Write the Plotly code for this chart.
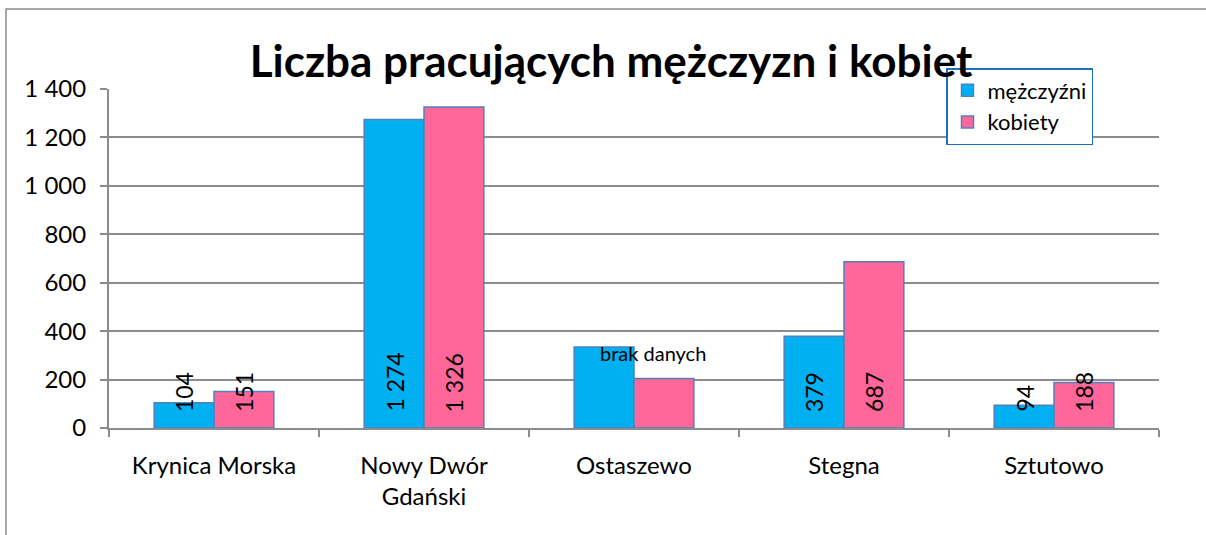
import plotly.graph_objects as go

categories = ["Krynica Morska", "Nowy Dwór<br>Gdański", "Ostaszewo", "Stegna", "Sztutowo"]
men = [104, 1274, 334, 379, 94]
women = [151, 1326, 204, 687, 188]
men_labels = ["104", "1 274", "", "379", "94"]
women_labels = ["151", "1 326", "", "687", "188"]
series_names = ["mężczyźni", "kobiety"]
y_tickvals = [0, 200, 400, 600, 800, 1000, 1200, 1400]
y_ticktext = ["0", "200", "400", "600", "800", "1 000", "1 200", "1 400"]
title_text = "Liczba pracujących mężczyzn i kobiet"
note_text = "brak danych"
note_category = "Ostaszewo"
note_value = 254

W, H = 1206, 535
ML, MR, MT, MB = 109, 47, 89, 107
FONT = "Lato"
BLUE = "#00B0F0"
PINK = "#FF6699"
EDGE = "#4F81BD"
GRID = "#8C8C8C"
BARGAP = 0.43

fig = go.Figure()
fig.add_trace(go.Bar(x=categories, y=men, name=series_names[0],
                     marker=dict(color=BLUE, line=dict(color=EDGE, width=1.5))))
fig.add_trace(go.Bar(x=categories, y=women, name=series_names[1],
                     marker=dict(color=PINK, line=dict(color=EDGE, width=1.5))))

plot_w = W - ML - MR
plot_h = H - MT - MB
cat_w = plot_w / len(categories)
bar_w = cat_w * (1 - BARGAP) / 2

annotations = []
for i, c in enumerate(categories):
    for lab, sh in ((men_labels[i], -bar_w / 2), (women_labels[i], bar_w / 2)):
        if lab:
            annotations.append(dict(x=c, y=0, xref="x", yref="y", text=lab, showarrow=False,
                                    textangle=-90, xanchor="center", yanchor="bottom",
                                    xshift=sh, yshift=14,
                                    font=dict(family=FONT, size=23, color="black")))
annotations.append(dict(x=note_category, y=note_value, xref="x", yref="y", text=note_text,
                        showarrow=False, xanchor="center", yanchor="bottom", xshift=19,
                        font=dict(family=FONT, size=20, color="black")))

fig.update_layout(
    width=W, height=H,
    margin=dict(l=ML, r=MR, t=MT, b=MB),
    paper_bgcolor="white", plot_bgcolor="white",
    barmode="group", bargap=BARGAP, bargroupgap=0,
    font=dict(family=FONT, size=24, color="black"),
    title=dict(text="<b>" + title_text + "</b>", x=611 / W, xref="container", xanchor="center",
               y=1 - 62 / H, yref="container", yanchor="middle",
               font=dict(family=FONT, size=44, color="black")),
    legend=dict(x=(946 - ML) / plot_w, y=1 + (MT - 68) / plot_h, xanchor="left", yanchor="top",
                bgcolor="white", bordercolor="#1F6FC0", borderwidth=1.5,
                font=dict(family=FONT, size=22, color="black"), tracegroupgap=0),
    annotations=annotations,
    shapes=[dict(type="rect", xref="paper", yref="paper",
                 x0=(6 - ML) / plot_w, x1=1.2, y0=-0.6, y1=1 + (MT - 9) / plot_h,
                 line=dict(color="#8C8C8C", width=1.5), fillcolor="rgba(0,0,0,0)", layer="below")],
)
fig.update_xaxes(type="category", tickson="boundaries", ticks="outside", ticklen=7,
                 tickcolor=GRID, tickwidth=1.5, showline=True, linecolor=GRID, linewidth=2,
                 showgrid=False, tickfont=dict(family=FONT, size=24, color="black"),
                 ticklabelstandoff=15)
fig.update_yaxes(range=[0, 1400], tickvals=y_tickvals, ticktext=y_ticktext,
                 ticks="outside", ticklen=7, tickcolor=GRID, tickwidth=1.5,
                 showline=True, linecolor=GRID, linewidth=2,
                 showgrid=True, gridcolor=GRID, gridwidth=1.5, zeroline=False,
                 tickfont=dict(family=FONT, size=24, color="black"), ticklabelstandoff=9)

fig.write_html("out.html", config={"displayModeBar": False},
               post_script="document.body.style.margin='0';")
